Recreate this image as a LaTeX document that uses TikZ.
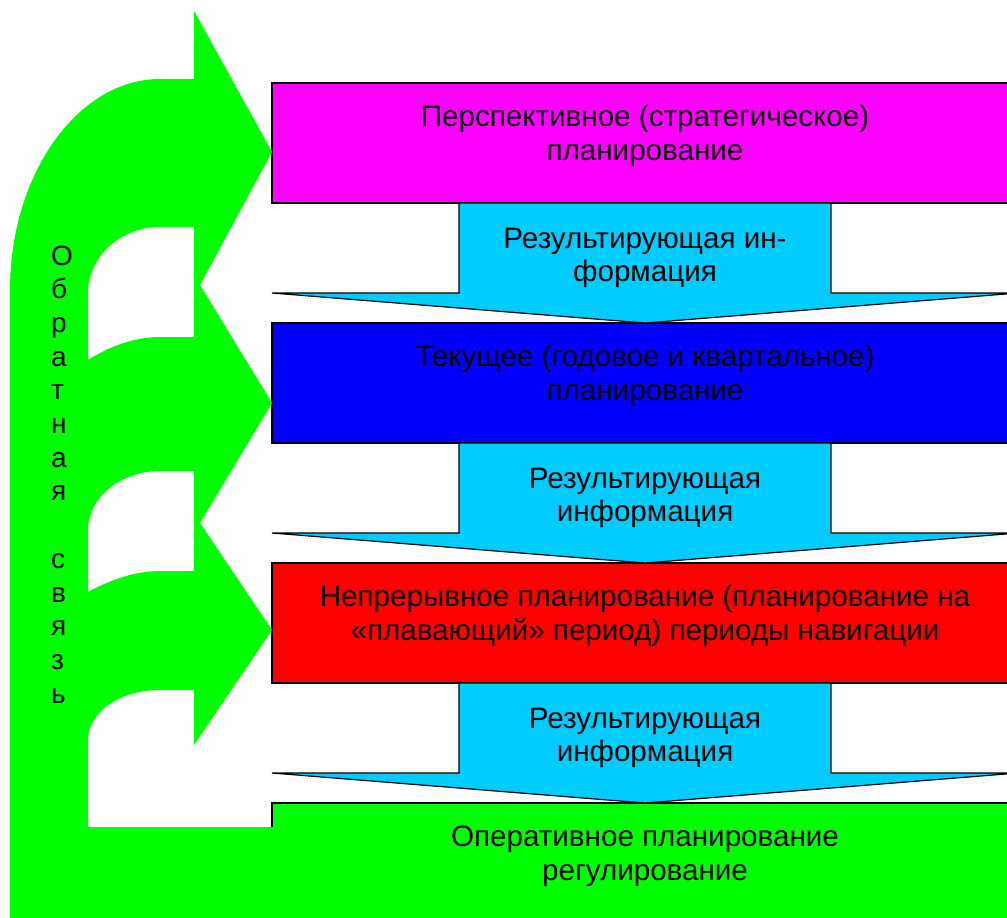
\documentclass[tikz,border=0pt]{standalone}
\usepackage{fontspec}
\setmainfont{Liberation Sans}
\usepackage{tikz}
\usetikzlibrary{positioning}
\usetikzlibrary{calc}
\usepackage{xcolor}
\definecolor{planmagenta}{HTML}{FF00FF}
\definecolor{planblue}{HTML}{0000FF}
\definecolor{planred}{HTML}{FF0000}
\definecolor{plangreen}{HTML}{00FF00}
\definecolor{infocyan}{HTML}{00CCFF}
\newcommand{\planfont}{\fontsize{29.6}{33.5}\selectfont}
\newcommand{\fbfont}{\fontsize{28}{33.7}\selectfont}

\begin{document}
\begin{tikzpicture}[x=1pt, y=-1pt, every node/.style={font=\planfont, inner sep=0pt, outer sep=0pt}]
\tikzstyle{planbox}=[draw=black, line width=1.5pt, minimum width=746pt, minimum height=120pt]
\tikzstyle{infoarrow}=[draw=black, line width=1.2pt, fill=infocyan]
\tikzstyle{plantext}=[align=center, yshift=7pt]
\tikzstyle{fbletter}=[anchor=base west, font=\fbfont]
\useasboundingbox (0,0) rectangle (1007,918);
\clip (0,0) rectangle (1007,918);

\node[planbox, fill=planmagenta] (persp) at (645,143) {};
\node[planbox, fill=planblue, below=120pt of persp] (tek) {};
\node[planbox, fill=planred, below=120pt of tek] (nepr) {};
\node[planbox, fill=plangreen, below=120pt of nepr] (oper) {};

\foreach \a/\b in {persp/tek, tek/nepr, nepr/oper}
  \draw[infoarrow] ($(\a.south)+(-186,0)$) -- ($(\b.north)+(-186,-30)$) -- ($(\b.north)+(-373,-30)$)
    -- (\b.north) -- ($(\b.north)+(373,-30)$) -- ($(\b.north)+(186,-30)$) -- ($(\a.south)+(186,0)$) -- cycle;

\fill[plangreen, even odd rule]
  (10,930) -- (10,290) .. controls (10,174) and (78,79) .. (160,79) -- (194,79) -- (194,11)
  -- (272,152) -- (200,285) -- (272,403) -- (200,523) -- (272,630) -- (194,745) -- (194,690)
  -- (160,690) .. controls (120,690) and (88,712) .. (88,740) -- (88,827) -- (274,827) -- (274,930) -- cycle
  (194,227) -- (160,227) .. controls (120,227) and (88,257) .. (88,293) -- (88,360)
  .. controls (110,346) and (135,337) .. (160,337) -- (194,337) -- cycle
  (194,471) -- (160,471) .. controls (120,471) and (88,498) .. (88,530) -- (88,592)
  .. controls (110,580) and (135,571) .. (160,571) -- (194,571) -- cycle;

\node[plantext] (persptext) at (persp.center) {Перспективное (стратегическое)\\планирование};
\node[plantext] (tektext) at (tek.center) {Текущее (годовое и квартальное)\\планирование};
\node[plantext] (neprtext) at (nepr.center) {Непрерывное планирование (планирование на\\«плавающий» период) периоды навигации};
\node[plantext] (opertext) at (oper.center) {Оперативное планирование\\регулирование};

\node[align=center] (info1) at ($(persp.south)+(0,55)$) {Результирующая ин-\\формация};
\node[align=center] (info2) at ($(tek.south)+(0,55)$) {Результирующая\\информация};
\node[align=center] (info3) at ($(nepr.south)+(0,55)$) {Результирующая\\информация};

\foreach \ch/\k in {О/0,б/1,р/2,а/3,т/4,н/5,а/6,я/7,с/9,в/10,я/11,з/12,ь/13}
  \node[fbletter] (fb\k) at (51, 265+33.7*\k) {\ch};
\end{tikzpicture}
\end{document}
